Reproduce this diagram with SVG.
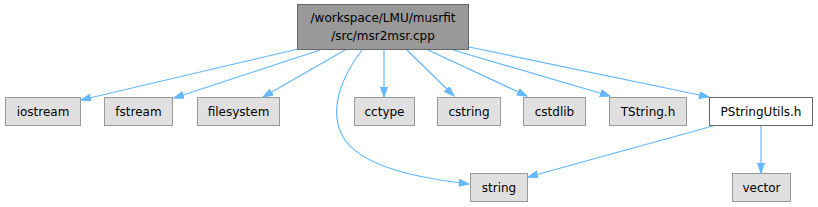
<svg xmlns="http://www.w3.org/2000/svg" width="818" height="207" viewBox="0 0 818 207">
<style>
text{font-family:"DejaVu Sans",sans-serif;font-size:12px;fill:#000;text-anchor:middle}
.n rect{fill:#e0e0e0;stroke:#999999;stroke-width:1}
.m rect{fill:#999999;stroke:#666666;stroke-width:1}
.w rect{fill:#ffffff;stroke:#666666;stroke-width:1}
.e path{fill:none;stroke:#63b8ff;stroke-width:1.2;marker-end:url(#a)}
</style>
<defs>
<marker id="a" markerUnits="userSpaceOnUse" markerWidth="11" markerHeight="8" refX="10" refY="3.5" orient="auto" viewBox="0 0 11 8">
<path d="M0,0 L10,3.5 L0,7 z" fill="#63b8ff" stroke="#63b8ff" stroke-width="1"/>
</marker>
</defs>
<g id="edges" class="e">
<path d="M298,49 L81,100"/>
<path d="M320,50 L174,98"/>
<path d="M345,50 L263,97"/>
<path d="M362,50 C345,72 325,110 345,140 C365,168 420,178 469,184"/>
<path d="M384,50 L384,97"/>
<path d="M407,50 L454,96"/>
<path d="M428,50 L527,96"/>
<path d="M453,50 L610,96"/>
<path d="M469,47 L709,97"/>
<path d="M713,126 L528,177"/>
<path d="M761,125 L761,173"/>
</g>
<g id="main" class="m"><rect x="297.5" y="4.5" width="171" height="45"/><text x="383" y="22">/workspace/LMU/musrfit</text><text x="383" y="40">/src/msr2msr.cpp</text></g>
<g id="iostream" class="n"><rect x="5.5" y="97.5" width="75" height="28"/><text x="43" y="116">iostream</text></g>
<g id="fstream" class="n"><rect x="104.5" y="97.5" width="68" height="28"/><text x="138.5" y="116">fstream</text></g>
<g id="filesystem" class="n"><rect x="197.5" y="97.5" width="82" height="28"/><text x="238.5" y="116">filesystem</text></g>
<g id="cctype" class="n"><rect x="354.5" y="97.5" width="60" height="28"/><text x="384.5" y="116">cctype</text></g>
<g id="cstring" class="n"><rect x="437.5" y="97.5" width="63" height="28"/><text x="469" y="116">cstring</text></g>
<g id="cstdlib" class="n"><rect x="523.5" y="97.5" width="62" height="28"/><text x="554.5" y="116">cstdlib</text></g>
<g id="TString" class="n"><rect x="609.5" y="97.5" width="77" height="28"/><text x="648" y="116">TString.h</text></g>
<g id="PStringUtils" class="w"><rect x="709.5" y="97.5" width="103" height="28"/><text x="761" y="116">PStringUtils.h</text></g>
<g id="string" class="n"><rect x="470.5" y="173.5" width="57" height="28"/><text x="499" y="192">string</text></g>
<g id="vector" class="n"><rect x="732.5" y="173.5" width="58" height="28"/><text x="761.5" y="192">vector</text></g>
</svg>
